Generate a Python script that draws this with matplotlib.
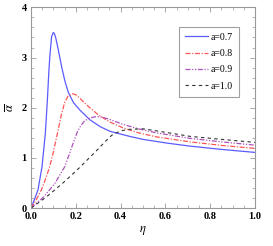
import matplotlib
matplotlib.use("Agg")
from matplotlib import pyplot as plt

# values
eta_07 = [0.0, 0.015, 0.031, 0.049, 0.064, 0.073, 0.080, 0.085, 0.092, 0.0997,
          0.105, 0.110, 0.122, 0.137, 0.152, 0.167, 0.19, 0.219, 0.263, 0.31,
          0.353, 0.44, 0.5, 0.6, 0.71, 0.85, 1.0]
alpha_07 = [0.0, 0.17, 0.36, 0.82, 1.49, 2.15, 2.75, 3.08, 3.42, 3.5,
            3.47, 3.40, 3.15, 2.81, 2.52, 2.30, 2.1, 1.95, 1.76, 1.62,
            1.53, 1.43, 1.37, 1.3, 1.235, 1.17, 1.11]

eta_08 = [0.0, 0.02, 0.046, 0.065, 0.083, 0.1, 0.118, 0.135, 0.15, 0.165,
          0.185, 0.2, 0.22, 0.245, 0.263, 0.3, 0.35, 0.41, 0.48, 0.56,
          0.71, 0.85, 1.0]
alpha_08 = [0.0, 0.14, 0.36, 0.58, 0.82, 1.12, 1.49, 1.85, 2.1, 2.23,
            2.28, 2.26, 2.18, 2.07, 2.0, 1.86, 1.72, 1.6, 1.5, 1.42,
            1.32, 1.25, 1.19]

eta_09 = [0.0, 0.056, 0.106, 0.15, 0.177, 0.195, 0.21, 0.225, 0.24, 0.26,
          0.285, 0.31, 0.35, 0.41, 0.48, 0.56, 0.71, 0.85, 1.0]
alpha_09 = [0.0, 0.22, 0.49, 0.82, 1.15, 1.38, 1.55, 1.66, 1.74, 1.79,
            1.82, 1.82, 1.77, 1.67, 1.58, 1.5, 1.39, 1.32, 1.255]

eta_10 = [0.0, 0.068, 0.15, 0.215, 0.26, 0.3, 0.33, 0.36, 0.4, 0.44,
          0.5, 0.56, 0.71, 0.85, 1.0]
alpha_10 = [0.0, 0.22, 0.53, 0.8, 1.0, 1.18, 1.32, 1.45, 1.54, 1.57,
            1.58, 1.54, 1.43, 1.37, 1.31]

labels = ["a=0.7", "a=0.8", "a=0.9", "a=1.0"]
x_ticks = [0.0, 0.2, 0.4, 0.6, 0.8, 1.0]
y_ticks = [0, 1, 2, 3, 4]

plt.rcParams["font.family"] = ["Liberation Serif", "DejaVu Serif"]
plt.rcParams["mathtext.fontset"] = "stix"

fig = plt.figure(figsize=(2.73, 2.46), dpi=100)
ax = fig.add_axes([0.1136, 0.154, 0.8204, 0.816])

ax.plot(eta_07, alpha_07, color="#5b5bff", lw=0.9, label=labels[0])
ax.plot(eta_08, alpha_08, color="#ff5555", lw=0.9,
        linestyle=(0, (4, 1.3, 1, 1.3)), label=labels[1])
ax.plot(eta_09, alpha_09, color="#b050c0", lw=0.9,
        linestyle=(0, (4, 1.3, 1, 1.3, 1, 1.3)), label=labels[2])
ax.plot(eta_10, alpha_10, color="#333333", lw=0.8,
        linestyle=(0, (3, 3)), label=labels[3])

ax.set_xlim(0, 1.0)
ax.set_ylim(0, 4)
ax.set_xticks(x_ticks)
ax.set_xticklabels(["%.1f" % v for v in x_ticks], fontweight="bold")
ax.set_yticks(y_ticks)
ax.set_yticklabels([str(v) for v in y_ticks], fontweight="bold")
ax.set_xticks([i * 0.05 for i in range(21)], minor=True)
ax.set_yticks([i * 0.2 for i in range(21)], minor=True)

for side in ax.spines.values():
    side.set_color("#999999")
    side.set_linewidth(0.8)
ax.tick_params(which="both", direction="in", top=True, right=True,
               color="#999999", labelsize=7.5)
ax.tick_params(axis="x", pad=3)
ax.tick_params(axis="y", pad=3)
ax.tick_params(which="major", length=3.5, width=0.6)
ax.tick_params(which="minor", length=2, width=0.5)

ax.set_xlabel(r"$\eta$", fontsize=9, labelpad=2)
ax.set_ylabel(r"$\overline{\alpha}$", fontsize=9, labelpad=3)

leg = ax.legend(loc="upper right", bbox_to_anchor=(0.929, 0.902), fontsize=7,
                frameon=True, fancybox=False, handlelength=2.4,
                handletextpad=0.3, borderpad=0.6, labelspacing=0.75,
                borderaxespad=0)
leg.get_frame().set_edgecolor("#888888")
leg.get_frame().set_linewidth(0.8)

fig.savefig("out.png", dpi=100)
